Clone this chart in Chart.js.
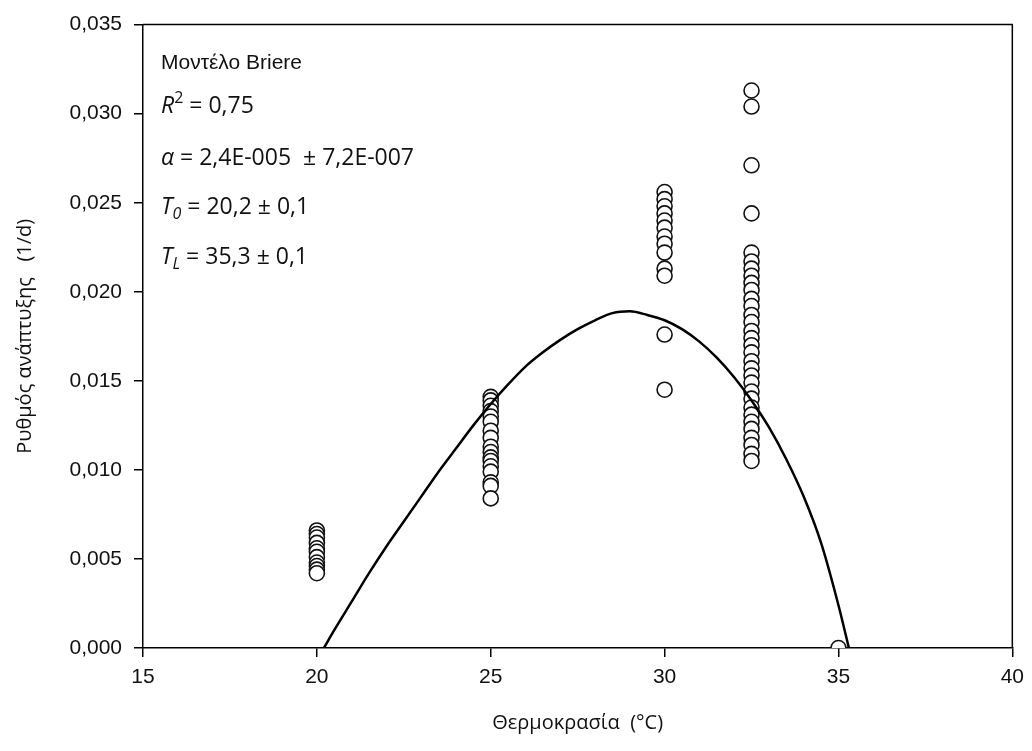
<!DOCTYPE html>
<html>
<head>
<meta charset="utf-8">
<script src="https://cdn.jsdelivr.net/npm/chart.js@4.4.1/dist/chart.umd.min.js"></script>
<style>
  html, body { margin: 0; padding: 0; background: #fff; }
  #wrap { width: 1032px; height: 751px; }
</style>
</head>
<body>
<div id="wrap"><canvas id="chart" width="1032" height="751"></canvas></div>
<script>
// Measured development rates (1/d) at each temperature
const rate20 = [0.0066, 0.0064, 0.0062, 0.0059, 0.0056, 0.0054, 0.0051, 0.0048, 0.0046, 0.0044, 0.0042];
const rate25 = [0.0141, 0.0139, 0.0136, 0.0133, 0.0130, 0.0127, 0.0122, 0.0118, 0.0113, 0.0110,
                0.0107, 0.0105, 0.0102, 0.0099, 0.0093, 0.0091, 0.0084];
const rate30 = [0.0256, 0.0252, 0.0248, 0.0244, 0.0240, 0.0236, 0.0231, 0.0227, 0.0222, 0.0213,
                0.0209, 0.0176, 0.0145];
const rate325 = [0.0313, 0.0304, 0.0271, 0.0244, 0.0222, 0.0217, 0.0213, 0.0209, 0.0205, 0.0201,
                 0.0196, 0.0192, 0.0187, 0.0183, 0.0178, 0.0174, 0.0170, 0.0166, 0.0161, 0.0157,
                 0.0153, 0.0149, 0.0144, 0.0140, 0.0135, 0.0131, 0.0127, 0.0123, 0.0118, 0.0114,
                 0.0109, 0.0105];
const rate35 = [0.0];

// Fitted Briere curve
const fitTemp = [20.2, 20.5, 21, 21.5, 22, 22.5, 23, 23.5, 24, 24.5, 25, 25.5, 26, 26.5, 27, 27.5,
                 28, 28.5, 29, 29.5, 30, 30.5, 31, 31.5, 32, 32.5, 33, 33.5, 34, 34.5, 35, 35.3];
const fitRate = [0, 0.0010, 0.0026, 0.0042, 0.0057, 0.0071, 0.0085, 0.0099, 0.0112, 0.0125, 0.0137,
                 0.0148, 0.0158, 0.0166, 0.0173, 0.0179, 0.0184, 0.0188, 0.0189, 0.0187, 0.0184,
                 0.0179, 0.0172, 0.0163, 0.0152, 0.0139, 0.0124, 0.0106, 0.0085, 0.0059, 0.0024, 0];

const xTicks = [15, 20, 25, 30, 35, 40];

const groups = [[20, rate20], [25, rate25], [30, rate30], [32.5, rate325], [35, rate35]];
const obsPoints = [];
groups.forEach(([t, arr]) => arr.forEach(r => obsPoints.push({ x: t, y: r })));
const fitPoints = fitTemp.map((t, i) => ({ x: t, y: fitRate[i] }));

// Frame on top and right of plot area
const framePlugin = {
  id: 'frame',
  afterDraw(chart) {
    const { ctx, chartArea: a } = chart;
    ctx.save();
    ctx.strokeStyle = '#000';
    ctx.lineWidth = 1.5;
    ctx.beginPath();
    ctx.moveTo(a.left, a.top);
    ctx.lineTo(a.right, a.top);
    ctx.lineTo(a.right, a.bottom);
    ctx.stroke();
    ctx.restore();
  }
};

// Model annotation text in the upper-left corner
const notePlugin = {
  id: 'note',
  afterDraw(chart) {
    const ctx = chart.ctx;
    const x0 = chart.chartArea.left + 18;
    const base = '"Open Sans", sans-serif';
    ctx.save();
    ctx.fillStyle = '#111';
    ctx.textBaseline = 'alphabetic';
    ctx.textAlign = 'left';

    ctx.font = '21px "Liberation Sans", Arial, sans-serif';
    ctx.fillText('Μοντέλο Briere', x0, 69);

    const run = (parts, y) => {
      let x = x0;
      parts.forEach(p => {
        const size = p.small ? 16 : 23;
        ctx.font = (p.it ? 'italic ' : '') + size + 'px ' + base;
        const dy = p.sup ? -10 : (p.sub ? 5 : 0);
        ctx.fillText(p.t, x, y + dy);
        x += ctx.measureText(p.t).width;
      });
    };
    run([{ t: 'R', it: true }, { t: '2', small: true, sup: true }, { t: ' = 0,75' }], 113);
    run([{ t: 'α', it: true }, { t: ' = 2,4E-005  ± 7,2E-007' }], 165);
    run([{ t: 'T', it: true }, { t: '0', it: true, small: true, sub: true }, { t: ' = 20,2 ± 0,1' }], 214);
    run([{ t: 'T', it: true }, { t: 'L', it: true, small: true, sub: true }, { t: ' = 35,3 ± 0,1' }], 264);
    ctx.restore();
  }
};

const tickFont = { family: '"Liberation Sans", Arial, sans-serif', size: 21 };
const titleFont = { family: '"Open Sans", sans-serif', size: 20 };

new Chart(document.getElementById('chart'), {
  type: 'scatter',
  data: {
    datasets: [
      {
        label: 'Briere',
        data: fitPoints,
        showLine: true,
        borderColor: '#000',
        borderWidth: 2.5,
        pointRadius: 0,
        cubicInterpolationMode: 'monotone',
        order: 0
      },
      {
        label: 'Observed',
        data: obsPoints,
        pointRadius: 7.5,
        pointBorderWidth: 1.6,
        pointBorderColor: '#111',
        pointBackgroundColor: '#fff',
        order: 1
      }
    ]
  },
  options: {
    responsive: false,
    animation: false,
    layout: { padding: { top: 21, right: 15, left: 0, bottom: 0 } },
    plugins: {
      legend: { display: false },
      tooltip: { enabled: false }
    },
    scales: {
      x: {
        type: 'linear',
        min: 15,
        max: 40,
        afterFit: s => { s.height = 103; },
        afterBuildTicks: s => { s.ticks = xTicks.map(v => ({ value: v })); },
        ticks: { font: tickFont, color: '#111', padding: 8, maxRotation: 0 },
        grid: { drawOnChartArea: false, drawTicks: true, tickLength: 9, color: '#000', lineWidth: 1.5 },
        border: { display: true, color: '#000', width: 1.5 },
        title: { display: true, text: 'Θερμοκρασία  (°C)', font: titleFont, color: '#111', padding: { bottom: 16 } }
      },
      y: {
        min: 0,
        max: 0.035,
        afterFit: s => { s.width = 143; },
        ticks: {
          stepSize: 0.005,
          font: tickFont,
          color: '#111',
          padding: 12,
          callback: v => v.toFixed(3).replace('.', ',')
        },
        grid: { drawOnChartArea: false, drawTicks: true, tickLength: 9, color: '#000', lineWidth: 1.5 },
        border: { display: true, color: '#000', width: 1.5 },
        title: { display: true, text: 'Ρυθμός ανάπτυξης   (1/d)', font: titleFont, color: '#111', padding: { top: 13 } }
      }
    }
  },
  plugins: [framePlugin, notePlugin]
});
</script>
</body>
</html>
